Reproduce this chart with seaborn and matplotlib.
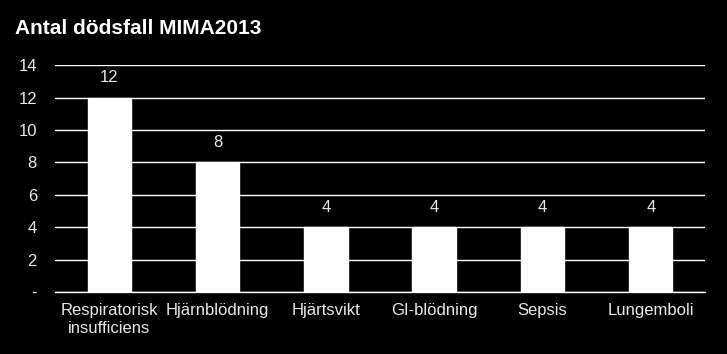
import numpy as np
import matplotlib.pyplot as plt
import pandas as pd
import seaborn as sns

# data
causes = ['Respiratorisk\ninsufficiens', 'Hjärnblödning', 'Hjärtsvikt',
          'GI-blödning', 'Sepsis', 'Lungemboli']
deaths = [12, 8, 4, 4, 4, 4]
y_ticks = [0, 2, 4, 6, 8, 10, 12, 14]
y_labels = ['-', '2', '4', '6', '8', '10', '12', '14']

df = pd.DataFrame({'Orsak': causes, 'Antal': deaths})

sns.set_style('dark')
plt.rcParams['font.family'] = ['Liberation Sans', 'DejaVu Sans']

fig = plt.figure(figsize=(7.27, 3.54), dpi=100, facecolor='black')
ax = fig.add_axes([0.0757, 0.175, 0.894, 0.641])
ax.set_facecolor('black')

sns.barplot(data=df, x='Orsak', y='Antal', color='white', width=0.4,
            saturation=1, ax=ax, zorder=3)

ax.set_ylim(0, 14)
ax.set_xlim(-0.5, len(causes) - 0.5)
ax.set_yticks(y_ticks)
ax.set_yticklabels(y_labels)
ax.yaxis.grid(True, color='white', linewidth=1)
ax.xaxis.grid(False)
ax.set_axisbelow(True)

for s in ['top', 'right', 'left']:
    ax.spines[s].set_visible(False)
ax.spines['bottom'].set_color('white')
ax.spines['bottom'].set_linewidth(1)

ax.tick_params(axis='y', colors='#e8e8e8', length=0, pad=13, labelsize=12)
ax.tick_params(axis='x', which='major', colors='#e8e8e8', length=0, pad=8, labelsize=12)
ax.set_xticks(np.arange(-0.5, len(causes)), minor=True)
ax.tick_params(axis='x', which='minor', colors='white', length=5, width=1)

for i, v in enumerate(deaths):
    ax.text(i, v + 0.75, str(v), color='#e8e8e8', ha='center', va='bottom', fontsize=12)

ax.set_xlabel('')
ax.set_ylabel('')
fig.text(0.02, 0.92, 'Antal dödsfall MIMA2013', color='white', fontsize=15,
         fontweight='bold', ha='left', va='center')

fig.savefig('out.png', dpi=100, facecolor='black')
